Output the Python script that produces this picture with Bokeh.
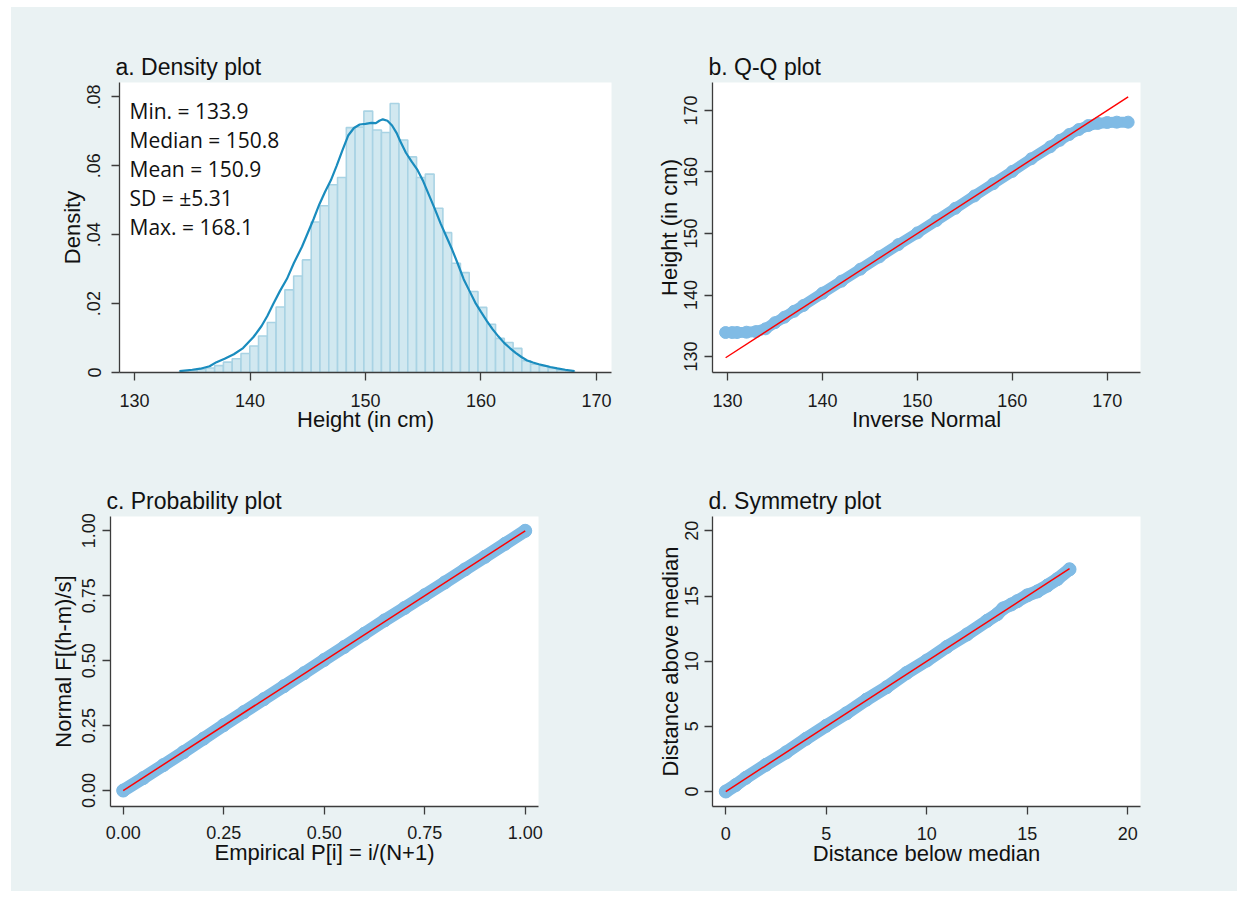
from bokeh.plotting import figure
from bokeh.layouts import column, row
from bokeh.models import Spacer, Label, Range1d, FixedTicker, CustomJSTickFormatter, PrintfTickFormatter
from bokeh.embed import file_html
from bokeh.resources import INLINE

# ---------------- data ----------------
hist_start = 133.9
hist_width = 0.76
hist_density = [0.0004, 0.0006, 0.0009, 0.0013, 0.0020, 0.0030, 0.0040, 0.0055, 0.0077,
                0.0106, 0.0145, 0.0190, 0.0240, 0.0280, 0.0327, 0.0437, 0.0484, 0.0545,
                0.0566, 0.0711, 0.0713, 0.0759, 0.0704, 0.0697, 0.0781, 0.0675, 0.0626,
                0.0566, 0.0576, 0.0477, 0.0406, 0.0317, 0.0290, 0.0235, 0.0189, 0.0140,
                0.0099, 0.0087, 0.0070, 0.0034, 0.0024, 0.0019, 0.0012, 0.0007, 0.0004]

kde_height = [133.9, 135.0, 135.7, 136.5, 137.1, 137.8, 138.6, 139.4, 140.3, 141.0, 141.5,
              142.0, 142.6, 143.2, 143.8, 144.5, 145.0, 145.5, 146.0, 146.5, 147.0, 147.5,
              148.0, 148.5, 149.0, 149.5, 150.0, 150.5, 150.9, 151.2, 151.5, 151.9, 152.3,
              152.7, 153.0, 153.5, 154.0, 154.5, 155.0, 155.5, 156.0, 156.5, 157.0, 157.5,
              158.0, 158.5, 159.0, 159.5, 160.0, 160.5, 161.0, 161.5, 162.0, 162.5, 163.0,
              163.5, 164.0, 164.5, 165.0, 165.5, 166.0, 166.6, 167.3, 168.1]
kde_density = [0.0004, 0.0008, 0.0011, 0.0018, 0.0030, 0.0040, 0.0053, 0.0071, 0.0103, 0.0135,
               0.0164, 0.0198, 0.0237, 0.0272, 0.0318, 0.0365, 0.0405, 0.0445, 0.0488, 0.0525,
               0.0558, 0.0600, 0.0645, 0.0688, 0.0710, 0.0720, 0.0722, 0.0725, 0.0724, 0.0731,
               0.0735, 0.0731, 0.0717, 0.0695, 0.0672, 0.0638, 0.0612, 0.0588, 0.0555, 0.0515,
               0.0475, 0.0433, 0.0395, 0.0357, 0.0315, 0.0271, 0.0237, 0.0203, 0.0176, 0.0150,
               0.0126, 0.0105, 0.0086, 0.0071, 0.0057, 0.0045, 0.0035, 0.0029, 0.0024, 0.0020,
               0.0016, 0.0012, 0.0008, 0.0004]

stat_names = ["Min.", "Median", "Mean", "SD", "Max."]
stat_values = ["133.9", "150.8", "150.9", "\u00b15.31", "168.1"]

qq_inverse_normal = [129.8, 130.5, 131.0, 132.0, 133.0, 134.0, 135.0, 136.0, 137.0, 138.0, 140.0,
                     142.0, 144.0, 146.0, 148.0, 150.0, 152.0, 154.0, 156.0, 158.0, 160.0, 162.0,
                     164.0, 165.0, 166.0, 167.0, 168.0, 169.0, 170.0, 171.0, 172.2]
qq_height = [133.9, 133.9, 133.9, 133.95, 134.05, 134.5, 135.5, 136.4, 137.35, 138.3, 140.3,
             142.25, 144.2, 146.2, 148.2, 150.1, 152.1, 154.1, 156.1, 158.1, 160.1, 162.15,
             164.1, 165.15, 166.1, 166.9, 167.55, 167.9, 168.05, 168.1, 168.1]
qq_ref = [129.8, 172.2]

pp_empirical = [0.0, 0.05, 0.10, 0.15, 0.20, 0.25, 0.30, 0.35, 0.40, 0.45, 0.50, 0.55, 0.60,
                0.65, 0.70, 0.75, 0.80, 0.85, 0.90, 0.95, 1.0]
pp_normal = [0.0, 0.048, 0.098, 0.148, 0.200, 0.252, 0.302, 0.352, 0.402, 0.452, 0.503, 0.553,
             0.604, 0.655, 0.703, 0.752, 0.801, 0.851, 0.900, 0.950, 1.0]
pp_ref = [0.0, 1.0]

sym_below = [0, 0.5, 1, 2, 3, 4, 5, 6, 7, 8, 9, 10, 11, 12, 13, 13.5, 13.8, 14.2, 14.5, 15,
             15.5, 16, 16.5, 17.1]
sym_above = [0, 0.5, 1.05, 2.05, 3.0, 4.05, 5.05, 6.0, 7.05, 8.0, 9.1, 10.05, 11.1, 12.05,
             13.1, 13.6, 14.05, 14.35, 14.6, 15.05, 15.35, 15.8, 16.3, 17.05]
sym_ref = [0, 17.1]

# ---------------- style ----------------
BG = "#eaf2f3"
MK = "#80bbe5"
RED = "#ff0000"
AX = "#3c3c3c"
FONT = "Liberation Sans"


def make_fig(title, w, h, left, right, top, bottom, xr, yr, xticks, yticks,
             y_tick_standoff, y_label_standoff, x_tick_standoff, x_label_standoff):
    p = figure(width=w, height=h, x_range=Range1d(*xr), y_range=Range1d(*yr),
               toolbar_location=None, output_backend="svg",
               min_border_left=left, min_border_right=right,
               min_border_top=top, min_border_bottom=bottom)
    p.border_fill_color = BG
    p.background_fill_color = "white"
    p.outline_line_color = None
    p.xgrid.visible = False
    p.ygrid.visible = False
    p.title.text = title
    p.title.text_font = FONT
    p.title.text_font_size = "23px"
    p.title.text_font_style = "normal"
    p.title.text_color = "#111111"
    p.title.offset = -4
    p.title.standoff = 5
    for ax in (p.xaxis[0], p.yaxis[0]):
        ax.axis_line_color = AX
        ax.axis_line_width = 1.3
        ax.major_tick_line_color = AX
        ax.major_tick_line_width = 1.3
        ax.major_tick_out = 8
        ax.major_tick_in = 0
        ax.minor_tick_line_color = None
        ax.major_label_text_font = FONT
        ax.major_label_text_font_size = "18px"
        ax.major_label_text_color = "#1a1a1a"
        ax.axis_label_text_font = FONT
        ax.axis_label_text_font_size = "22px"
        ax.axis_label_text_font_style = "normal"
        ax.axis_label_text_color = "#111111"
    p.xaxis[0].ticker = FixedTicker(ticks=xticks)
    p.yaxis[0].ticker = FixedTicker(ticks=yticks)
    p.yaxis[0].major_label_orientation = "vertical"
    p.xaxis[0].major_label_standoff = x_tick_standoff
    p.xaxis[0].axis_label_standoff = x_label_standoff
    p.yaxis[0].major_label_standoff = y_tick_standoff
    p.yaxis[0].axis_label_standoff = y_label_standoff
    return p


# ---------------- a. density ----------------
pa = make_fig("a. Density plot", 613, 442, 108, 13, 75, 77, (128.7, 171.3), (0, 0.0842),
              [130, 140, 150, 160, 170], [0, 0.02, 0.04, 0.06, 0.08], 11, 0, 13, -3)
pa.xaxis.axis_label = "Height (in cm)"
pa.yaxis.axis_label = "Density"
pa.yaxis[0].formatter = CustomJSTickFormatter(
    code="return tick == 0 ? '0' : tick.toFixed(2).replace(/^0/, '');")
edges = [hist_start + i * hist_width for i in range(len(hist_density) + 1)]
pa.quad(left=edges[:-1], right=edges[1:], bottom=0, top=hist_density,
        fill_color="#d1e8f0", line_color="#a9d3e4", line_width=1.6)
pa.line(kde_height, kde_density, line_width=2.2, color="#1a8cbe")

frame_h_a = 442 - 75 - 77
yscale = (0.0842 - 0) / frame_h_a
xscale = (171.3 - 128.7) / (613 - 108 - 13)
for i, (nm, vl) in enumerate(zip(stat_names, stat_values)):
    pa.add_layout(Label(x=128.7 + 10 * xscale, y=0.0842 - (28.4 + 28.9 * i) * yscale,
                        text=f"{nm} = {vl}", text_font="Open Sans", text_font_size="21px",
                        text_color="#111111", text_baseline="middle", text_align="left"))

# ---------------- b. Q-Q ----------------
pb = make_fig("b. Q-Q plot", 613, 442, 88, 97, 75, 77, (128.42, 173.5), (127.4, 174.55),
              [130, 140, 150, 160, 170], [130, 140, 150, 160, 170], 7, 0, 13, -3)
pb.xaxis.axis_label = "Inverse Normal"
pb.yaxis.axis_label = "Height (in cm)"
pb.line(qq_inverse_normal, qq_height, line_width=11, color=MK, line_cap="round", line_join="round")
pb.scatter(qq_inverse_normal, qq_height, size=12, color=MK)
pb.line(qq_ref, qq_ref, line_width=1.4, color=RED)

# ---------------- c. probability ----------------
pc = make_fig("c. Probability plot", 613, 442, 99, 86, 67, 84, (-0.0316, 1.033), (-0.0614, 1.055),
              [0, 0.25, 0.5, 0.75, 1.0], [0, 0.25, 0.5, 0.75, 1.0], 7, 4, 11, -2)
pc.xaxis.axis_label = "Empirical P[i] = i/(N+1)"
pc.yaxis.axis_label = "Normal F[(h-m)/s]"
pc.xaxis[0].formatter = PrintfTickFormatter(format="%.2f")
pc.yaxis[0].formatter = PrintfTickFormatter(format="%.2f")
pc.line(pp_empirical, pp_normal, line_width=13, color=MK, line_cap="round", line_join="round")
pc.scatter(pp_empirical, pp_normal, size=13, color=MK)
pc.line(pp_ref, pp_ref, line_width=1.5, color=RED)

# ---------------- d. symmetry ----------------
pd_ = make_fig("d. Symmetry plot", 613, 442, 88, 97, 67, 85, (-0.66, 20.63), (-1.15, 21.1),
               [0, 5, 10, 15, 20], [0, 5, 10, 15, 20], 6, 0, 12, -2)
pd_.xaxis.axis_label = "Distance below median"
pd_.yaxis.axis_label = "Distance above median"
pd_.line(sym_below, sym_above, line_width=13, color=MK, line_cap="round", line_join="round")
pd_.scatter(sym_below, sym_above, size=13, color=MK)
pd_.line(sym_ref, sym_ref, line_width=1.5, color=RED)

grid = column(row(pa, pb, styles={"background-color": BG}),
              row(pc, pd_, styles={"background-color": BG}),
              styles={"background-color": BG})
layout = column(Spacer(width=10, height=7), row(Spacer(width=11, height=10), grid))

open("out.html", "w").write(file_html(layout, INLINE))
